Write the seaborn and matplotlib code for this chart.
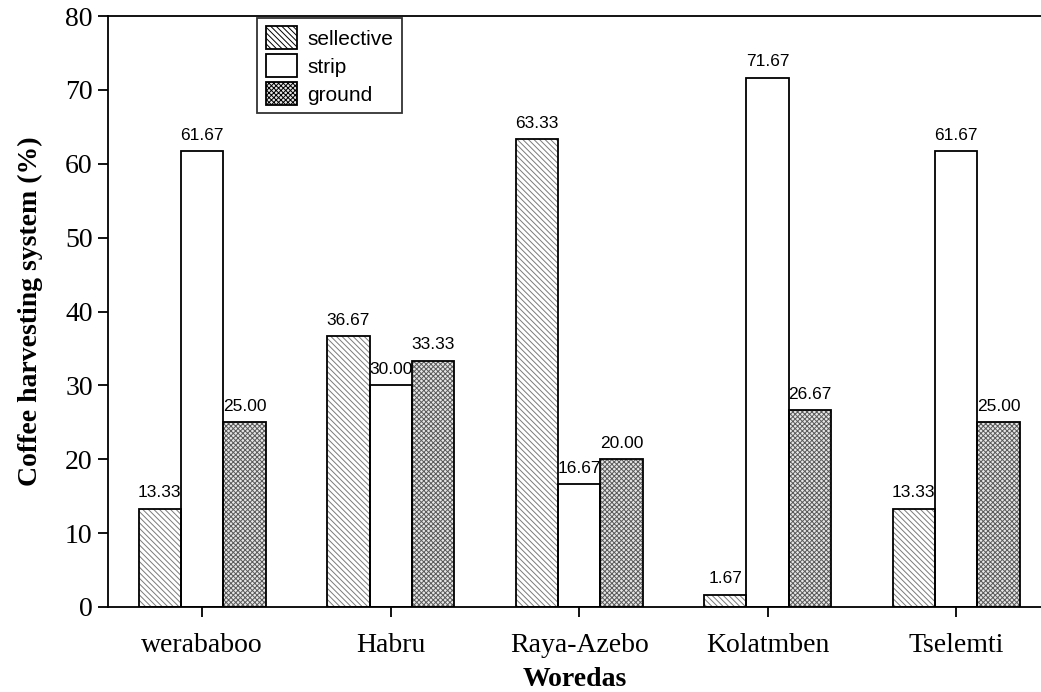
import numpy as np
import pandas as pd
import matplotlib
matplotlib.use("Agg")
import matplotlib.pyplot as plt
import seaborn as sns
from matplotlib.patches import Patch, Rectangle

#--------------------------------------------------------
# Data
#--------------------------------------------------------
woredas = ["werababoo", "Habru", "Raya-Azebo", "Kolatmben", "Tselemti"]
systems = ["sellective", "strip", "ground"]
sellective = [13.33, 36.67, 63.33, 1.67, 13.33]
strip = [61.67, 30.00, 16.67, 71.67, 61.67]
ground = [25.00, 33.33, 20.00, 26.67, 25.00]

df = pd.DataFrame({
    "Woredas": woredas * 3,
    "system": ["sellective"] * 5 + ["strip"] * 5 + ["ground"] * 5,
    "value": sellective + strip + ground,
})

sns.set_style("ticks")
plt.rcParams.update({
    "hatch.linewidth": 0.7,
    "text.color": "black",
    "axes.labelcolor": "black",
    "xtick.color": "black",
    "ytick.color": "black",
})

# hatch drawn in grey, black outline added on top
styles = {
    "sellective": dict(face="white", hatch="\\\\\\\\\\\\", hcol="#7a7a7a"),
    "strip": dict(face="white", hatch="", hcol="black"),
    "ground": dict(face="#e6e6e6", hatch="xxxxxxx", hcol="#5a5a5a"),
}

fig = plt.figure(figsize=(10.41, 6.92), dpi=100)
ax = fig.add_axes([108 / 1041, 1 - 607 / 692, 1 - 108 / 1041, (607 - 16) / 692])

sns.barplot(data=df, x="Woredas", y="value", hue="system", hue_order=systems,
            order=woredas, width=0.675, ax=ax, legend=False, errorbar=None,
            palette=["white"] * 3)

for cont, s in zip(ax.containers, systems):
    st = styles[s]
    for bar in cont:
        bar.set_facecolor(st["face"])
        bar.set_hatch(st["hatch"])
        bar.set_edgecolor(st["hcol"])
        bar.set_linewidth(0)
        ax.add_patch(Rectangle((bar.get_x(), bar.get_y()), bar.get_width(), bar.get_height(),
                               fill=False, edgecolor="black", linewidth=1.3, zorder=3))
    for bar, v in zip(cont, df[df.system == s]["value"]):
        ax.annotate(f"{v:.2f}", (bar.get_x() + bar.get_width() / 2, bar.get_height()),
                    xytext=(0, 6), textcoords="offset points", ha="center", va="bottom",
                    fontsize=12.5, family="Liberation Sans")

ax.set_ylim(0, 80)
ax.set_xlim(-0.5, 4.45)
ax.set_yticks(range(0, 81, 10))
ax.spines["right"].set_visible(False)
for sp in ["left", "bottom", "top"]:
    ax.spines[sp].set_linewidth(1.3)
    ax.spines[sp].set_color("black")
    ax.spines[sp].set_zorder(4)

for lab in ax.get_xticklabels() + ax.get_yticklabels():
    lab.set_family("Liberation Serif")
    lab.set_fontsize(20)
ax.tick_params(axis="y", length=7, width=1.3, color="black", pad=4)
ax.tick_params(axis="x", length=7, width=1.3, color="black", pad=12)

ax.set_xlabel("Woredas", fontsize=20, fontweight="bold", family="Liberation Serif",
              labelpad=6)
ax.set_ylabel("Coffee harvesting system (%)", fontsize=20, fontweight="bold",
              family="Liberation Serif", labelpad=16)

handles = []
for s in systems:
    st = styles[s]
    handles.append(Patch(facecolor=st["face"], hatch=st["hatch"], edgecolor="black",
                         linewidth=1.3))
leg = ax.legend(handles, systems, loc="upper left", bbox_to_anchor=(0.158, 1.0),
                frameon=True, fancybox=False, edgecolor="black",
                prop={"family": "Liberation Sans", "size": 15},
                handlelength=1.5, handleheight=1.3, handletextpad=0.5,
                borderpad=0.4, labelspacing=0.25, borderaxespad=0.1)
leg.get_frame().set_linewidth(1.3)

fig.savefig("out.png", dpi=100)
